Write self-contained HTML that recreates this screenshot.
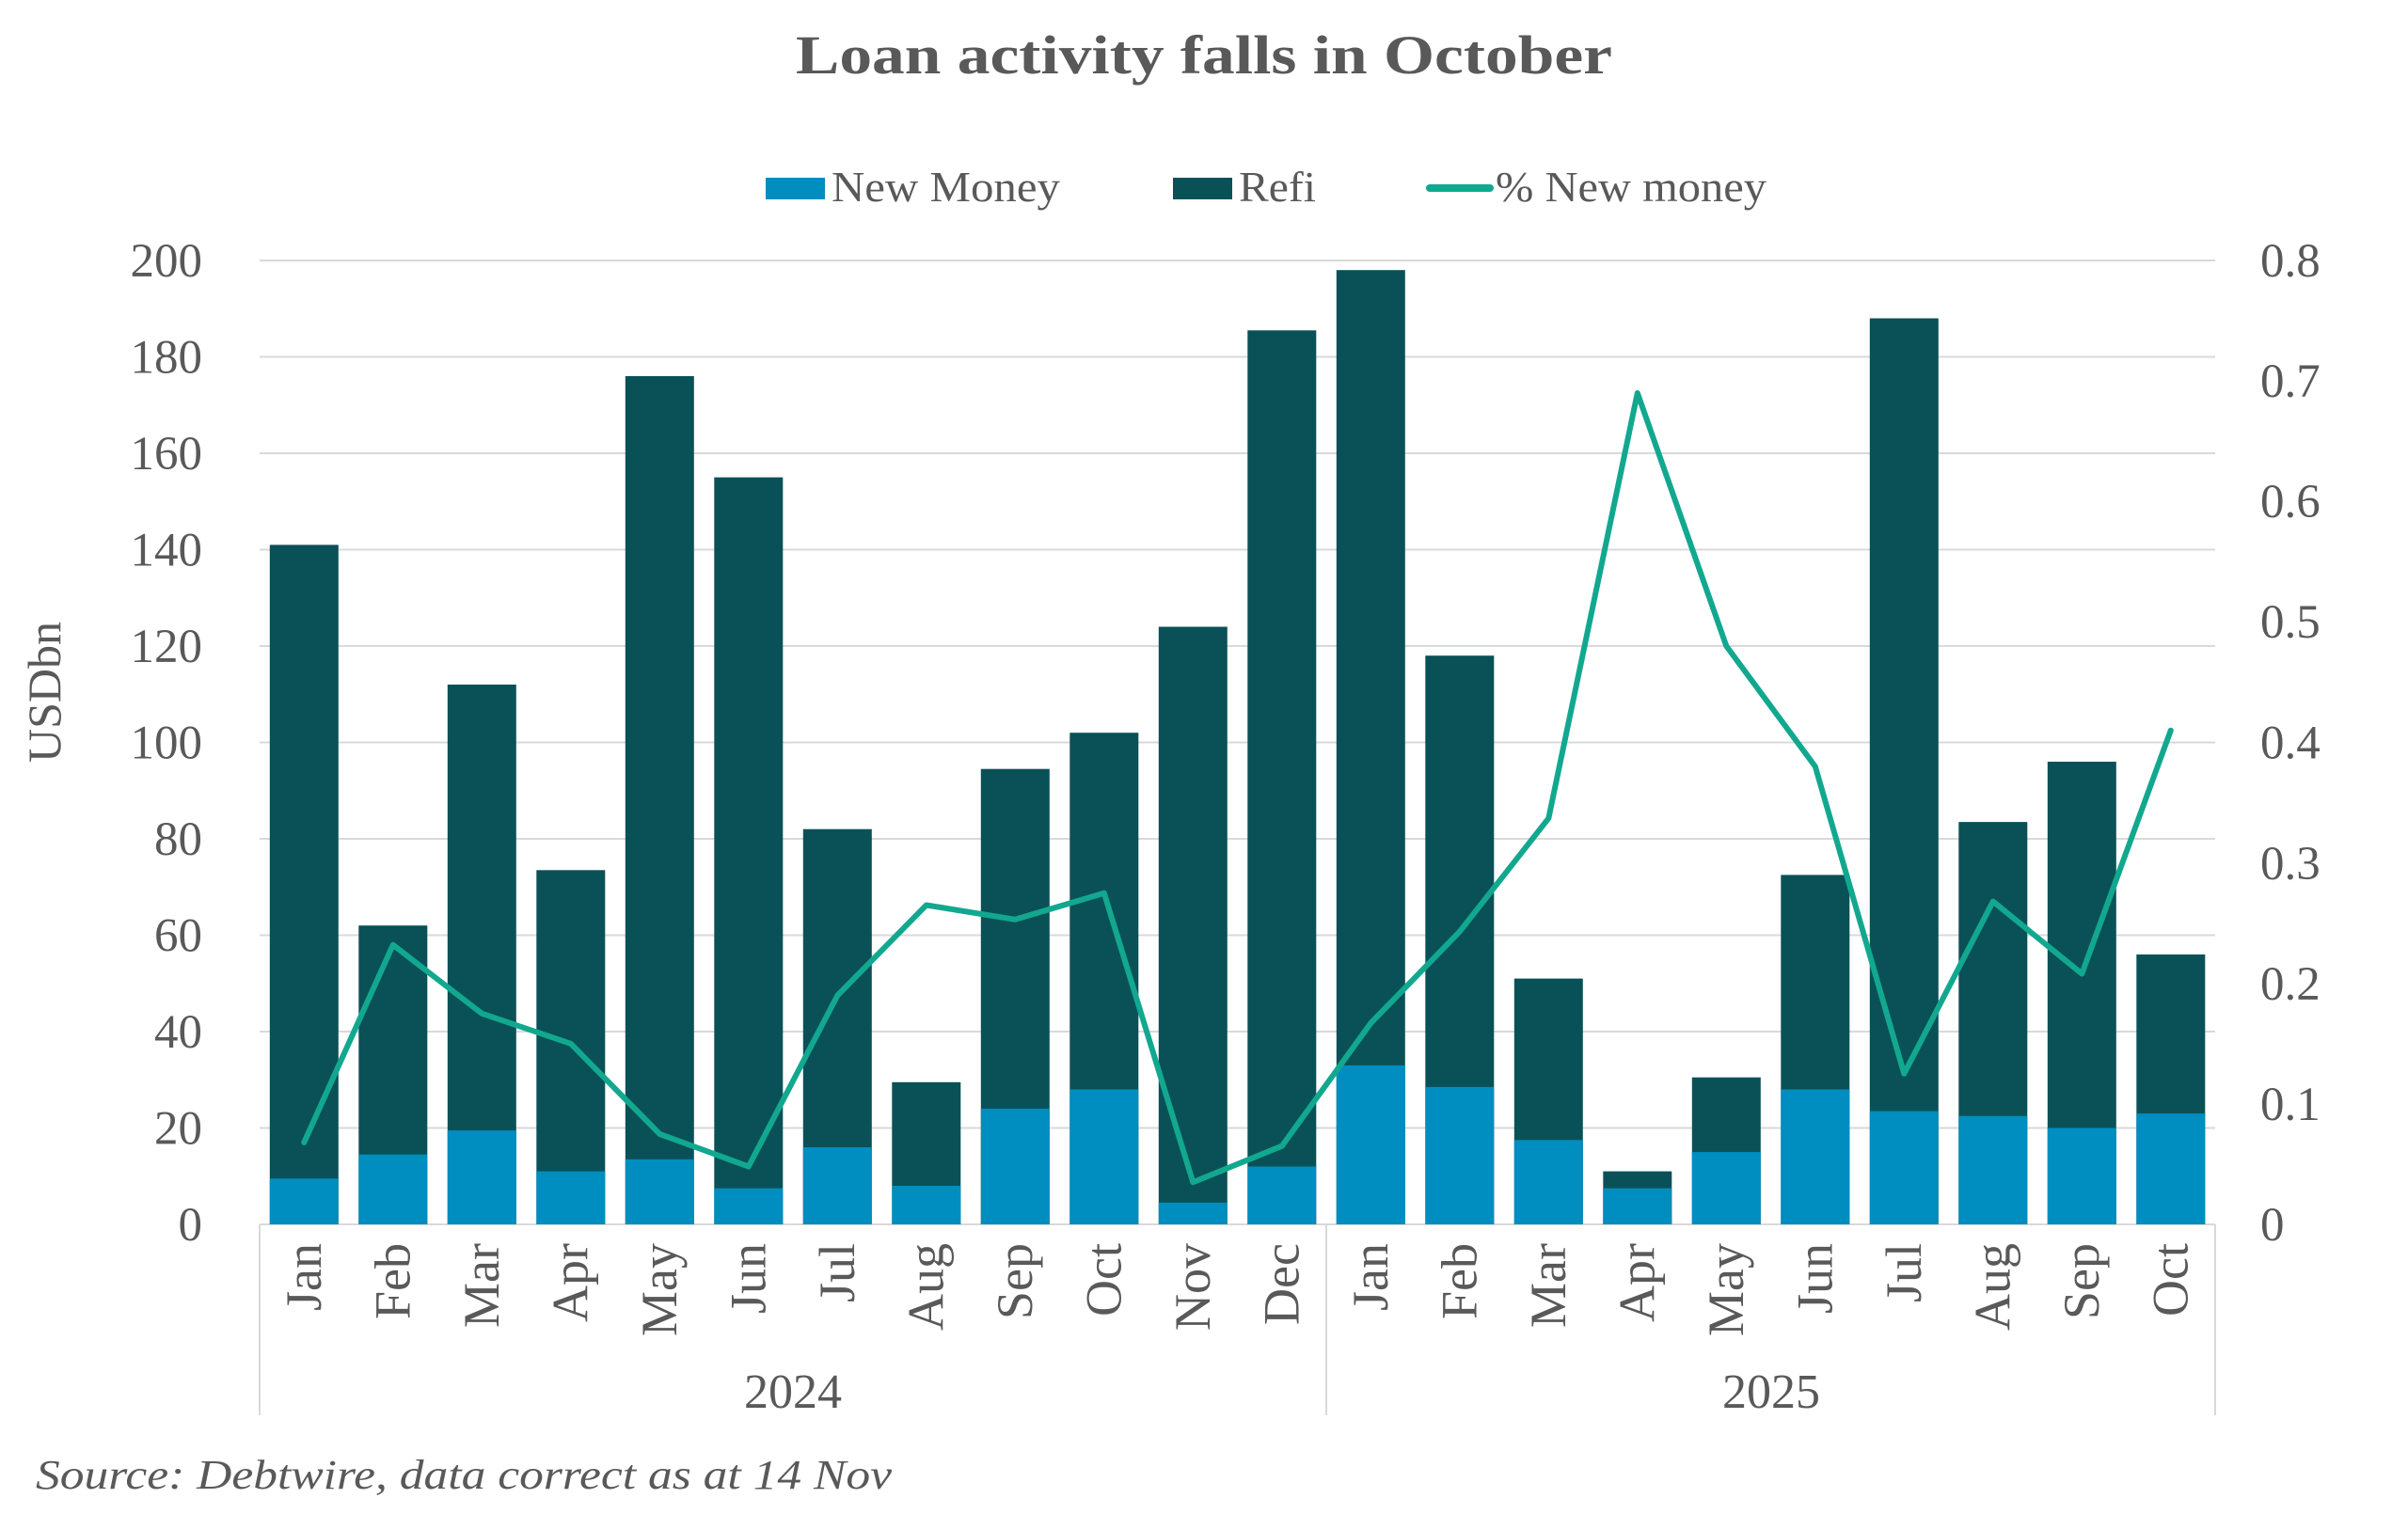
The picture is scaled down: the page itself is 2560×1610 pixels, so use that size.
<!DOCTYPE html>
<html><head><meta charset="utf-8"><style>html,body{margin:0;padding:0;background:#fff}svg{display:block}</style></head>
<body>
<svg xmlns="http://www.w3.org/2000/svg" width="2560" height="1610" viewBox="0 0 2560 1610" font-family="'Liberation Serif', serif" fill="#595959">
<rect width="2560" height="1610" fill="#fff"/>
<text x="1280" y="78" font-size="58" font-weight="bold" text-anchor="middle" textLength="868" lengthAdjust="spacingAndGlyphs">Loan activity falls in October</text>
<!-- legend -->
<rect x="814" y="189" width="63" height="23" fill="#008DBF"/>
<text x="884" y="214" font-size="46" textLength="243" lengthAdjust="spacingAndGlyphs">New Money</text>
<rect x="1247" y="189" width="63" height="23" fill="#0A5157"/>
<text x="1317" y="214" font-size="46" textLength="82" lengthAdjust="spacingAndGlyphs">Refi</text>
<line x1="1520" y1="200" x2="1584" y2="200" stroke="#12A88F" stroke-width="8" stroke-linecap="round"/>
<text x="1590" y="214" font-size="46" textLength="288" lengthAdjust="spacingAndGlyphs">% New money</text>
<!-- grid -->
<g stroke="#D9D9D9" stroke-width="2">
<line x1="276" x2="2355" y1="1199.5" y2="1199.5"/><line x1="276" x2="2355" y1="1097" y2="1097"/>
<line x1="276" x2="2355" y1="994.5" y2="994.5"/><line x1="276" x2="2355" y1="892" y2="892"/>
<line x1="276" x2="2355" y1="789.5" y2="789.5"/><line x1="276" x2="2355" y1="687" y2="687"/>
<line x1="276" x2="2355" y1="584.5" y2="584.5"/><line x1="276" x2="2355" y1="482" y2="482"/>
<line x1="276" x2="2355" y1="379.5" y2="379.5"/><line x1="276" x2="2355" y1="277" y2="277"/>
<line x1="276" x2="2355" y1="1302" y2="1302"/>
<line x1="276" x2="276" y1="1302" y2="1505"/><line x1="1410" x2="1410" y1="1302" y2="1505"/><line x1="2355" x2="2355" y1="1302" y2="1505"/>
</g>
<!-- left ticks -->
<g font-size="51" text-anchor="end">
<text x="215" y="1319">0</text><text x="215" y="1216.5">20</text><text x="215" y="1114">40</text>
<text x="215" y="1011.5">60</text><text x="215" y="909">80</text><text x="215" y="806.5">100</text>
<text x="215" y="704">120</text><text x="215" y="601.5">140</text><text x="215" y="499">160</text>
<text x="215" y="396.5">180</text><text x="215" y="294">200</text>
</g>
<g font-size="51">
<text x="2403" y="1319">0</text><text x="2403" y="1191">0.1</text><text x="2403" y="1063">0.2</text>
<text x="2403" y="935">0.3</text><text x="2403" y="806.5">0.4</text><text x="2403" y="678">0.5</text>
<text x="2403" y="550">0.6</text><text x="2403" y="422">0.7</text><text x="2403" y="294">0.8</text>
</g>
<text transform="translate(64,736) rotate(-90)" font-size="50" text-anchor="middle">USDbn</text>
<!-- bars -->
<g fill="#0A5157">
<rect x="286.8" y="579.4" width="73" height="722.6"/><rect x="381.3" y="984.2" width="73" height="317.8"/>
<rect x="475.8" y="728" width="73" height="574"/><rect x="570.3" y="925.3" width="73" height="376.7"/>
<rect x="664.8" y="400" width="73" height="902"/><rect x="759.3" y="507.6" width="73" height="794.4"/>
<rect x="853.8" y="881.7" width="73" height="420.3"/><rect x="948.3" y="1150.8" width="73" height="151.2"/>
<rect x="1042.8" y="817.7" width="73" height="484.3"/><rect x="1137.3" y="779.2" width="73" height="522.8"/>
<rect x="1231.8" y="666.5" width="73" height="635.5"/><rect x="1326.3" y="351.3" width="73" height="950.7"/>
<rect x="1420.8" y="287.2" width="73" height="1014.8"/><rect x="1515.3" y="697.2" width="73" height="604.8"/>
<rect x="1609.8" y="1040.6" width="73" height="261.4"/><rect x="1704.3" y="1245.6" width="73" height="56.4"/>
<rect x="1798.8" y="1145.7" width="73" height="156.3"/><rect x="1893.3" y="930.4" width="73" height="371.6"/>
<rect x="1987.8" y="338.5" width="73" height="963.5"/><rect x="2082.3" y="874.1" width="73" height="427.9"/>
<rect x="2176.8" y="810" width="73" height="492"/><rect x="2271.3" y="1015" width="73" height="287"/>
</g>
<g fill="#008DBF">
<rect x="286.8" y="1253.3" width="73" height="48.7"/><rect x="381.3" y="1227.7" width="73" height="74.3"/>
<rect x="475.8" y="1202.1" width="73" height="99.9"/><rect x="570.3" y="1245.6" width="73" height="56.4"/>
<rect x="664.8" y="1232.8" width="73" height="69.2"/><rect x="759.3" y="1263.6" width="73" height="38.4"/>
<rect x="853.8" y="1220" width="73" height="82"/><rect x="948.3" y="1261" width="73" height="41"/>
<rect x="1042.8" y="1179" width="73" height="123"/><rect x="1137.3" y="1158.5" width="73" height="143.5"/>
<rect x="1231.8" y="1278.9" width="73" height="23.1"/><rect x="1326.3" y="1240.5" width="73" height="61.5"/>
<rect x="1420.8" y="1132.9" width="73" height="169.1"/><rect x="1515.3" y="1155.9" width="73" height="146.1"/>
<rect x="1609.8" y="1212.3" width="73" height="89.7"/><rect x="1704.3" y="1263.6" width="73" height="38.4"/>
<rect x="1798.8" y="1225.1" width="73" height="76.9"/><rect x="1893.3" y="1158.5" width="73" height="143.5"/>
<rect x="1987.8" y="1181.6" width="73" height="120.4"/><rect x="2082.3" y="1186.7" width="73" height="115.3"/>
<rect x="2176.8" y="1199.5" width="73" height="102.5"/><rect x="2271.3" y="1184.1" width="73" height="117.9"/>
</g>
<polyline fill="none" stroke="#12A88F" stroke-width="6" stroke-linejoin="round" stroke-linecap="round"
points="323.3,1214.9 417.8,1004.8 512.3,1077.8 606.8,1109.8 701.3,1205.9 795.8,1240.5 890.3,1058.6 984.8,962.5 1079.3,977.8 1173.8,949.7 1268.3,1257.2 1362.8,1218.7 1457.3,1088 1551.8,990.7 1646.3,870.2 1740.8,417.9 1835.3,687 1929.8,815.1 2024.3,1141.8 2118.8,958.6 2213.3,1035.5 2307.8,776.7"/>
<!-- month labels -->
<g font-size="54" text-anchor="end">
<text transform="translate(341,1322) rotate(-90)">Jan</text>
<text transform="translate(435.5,1322) rotate(-90)">Feb</text>
<text transform="translate(530,1322) rotate(-90)">Mar</text>
<text transform="translate(624.5,1322) rotate(-90)">Apr</text>
<text transform="translate(719,1322) rotate(-90)">May</text>
<text transform="translate(813.5,1322) rotate(-90)">Jun</text>
<text transform="translate(908,1322) rotate(-90)">Jul</text>
<text transform="translate(1002.5,1322) rotate(-90)">Aug</text>
<text transform="translate(1097,1322) rotate(-90)">Sep</text>
<text transform="translate(1191.5,1322) rotate(-90)">Oct</text>
<text transform="translate(1286,1322) rotate(-90)">Nov</text>
<text transform="translate(1380.5,1322) rotate(-90)">Dec</text>
<text transform="translate(1475,1322) rotate(-90)">Jan</text>
<text transform="translate(1569.5,1322) rotate(-90)">Feb</text>
<text transform="translate(1664,1322) rotate(-90)">Mar</text>
<text transform="translate(1758.5,1322) rotate(-90)">Apr</text>
<text transform="translate(1853,1322) rotate(-90)">May</text>
<text transform="translate(1947.5,1322) rotate(-90)">Jun</text>
<text transform="translate(2042,1322) rotate(-90)">Jul</text>
<text transform="translate(2136.5,1322) rotate(-90)">Aug</text>
<text transform="translate(2231,1322) rotate(-90)">Sep</text>
<text transform="translate(2325.5,1322) rotate(-90)">Oct</text>
</g>
<g font-size="52" text-anchor="middle">
<text x="843" y="1497">2024</text>
<text x="1883" y="1497">2025</text>
</g>
<text x="38" y="1583" font-size="44" font-style="italic" textLength="910" lengthAdjust="spacingAndGlyphs">Source: Debtwire, data correct as at 14 Nov</text>
</svg>
</body></html>
